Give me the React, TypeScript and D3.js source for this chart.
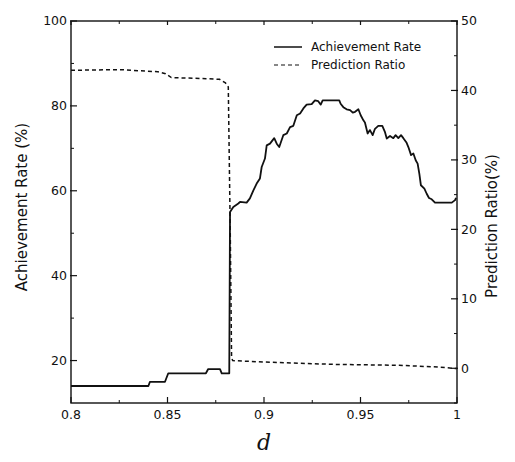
import React from 'react';
import * as d3 from 'd3';

// achievement rate (%), left axis
const achD = [0.8, 0.8401, 0.8409, 0.8487, 0.8504, 0.8699, 0.8711, 0.8772, 0.8781, 0.882,
  0.8824, 0.8841, 0.8867, 0.8876, 0.891, 0.8927, 0.8945, 0.8962, 0.8979, 0.8988, 0.9005,
  0.9014, 0.9031, 0.9053, 0.9066, 0.9079, 0.91, 0.9118, 0.9135, 0.9152, 0.917, 0.9187,
  0.9204, 0.9221, 0.9247, 0.9264, 0.9281, 0.9294, 0.9304, 0.9325, 0.9377, 0.939, 0.9397,
  0.9411, 0.9428, 0.9446, 0.946, 0.9472, 0.9489, 0.9501, 0.9515, 0.9523, 0.9537, 0.9549,
  0.9563, 0.9575, 0.9592, 0.9613, 0.9627, 0.9636, 0.9653, 0.967, 0.9682, 0.9696, 0.971,
  0.9722, 0.9739, 0.9748, 0.9762, 0.9774, 0.9786, 0.9796, 0.9805, 0.9813, 0.9831, 0.9843,
  0.9855, 0.9869, 0.9886, 0.9973, 0.999, 0.9995];
const achV = [14, 14, 15, 15, 17, 17, 18, 18, 17, 17,
  55.0, 56.2, 57.0, 57.4, 57.2, 58.2, 60.1, 61.7, 62.9, 65.6, 67.6,
  70.7, 71.1, 72.4, 71.1, 70.3, 73.1, 73.5, 75.0, 75.3, 77.8, 78.2,
  79.4, 80.3, 80.4, 81.3, 81.1, 80.3, 81.3, 81.3, 81.3, 81.3, 80.5,
  79.7, 79.2, 79.0, 78.4, 78.6, 79.2, 77.8, 76.6, 76.1, 73.5, 74.3,
  73.1, 74.6, 75.3, 75.3, 73.8, 72.3, 72.9, 72.4, 73.1, 72.4, 73.1,
  72.4, 71.3, 70.3, 68.4, 68.8, 67.2, 66.4, 64.0, 61.3, 60.5, 59.3,
  58.3, 58.0, 57.2, 57.2, 57.8, 58.3];

// prediction ratio (%), right axis
const predD = [0.8, 0.825, 0.845, 0.849, 0.852, 0.87, 0.877, 0.88, 0.8815, 0.8825, 0.8832,
  0.8838, 0.9, 0.935, 0.97, 0.99, 1.0];
const predV = [42.9, 43.0, 42.7, 42.4, 41.85, 41.7, 41.6, 41.1, 40.5, 20, 1.5,
  1.1, 0.9, 0.57, 0.43, 0.18, -0.05];

const xTicks = [0.8, 0.85, 0.9, 0.95, 1];
const xMinor = [0.825, 0.875, 0.925, 0.975];
const leftTicks = [20, 40, 60, 80, 100];
const leftMinor = [30, 50, 70, 90];
const rightTicks = [0, 10, 20, 30, 40, 50];
const rightMinor = [-5, 5, 15, 25, 35, 45];

const legendItems = ['Achievement Rate', 'Prediction Ratio'];

const W = 515;
const H = 462;
const m = { left: 71, right: 58, top: 21, bottom: 59 };
const font = "'DejaVu Sans', sans-serif";

export default function App() {
  const x = d3.scaleLinear().domain([0.8, 1]).range([m.left, W - m.right]);
  const yL = d3.scaleLinear().domain([10, 100]).range([H - m.bottom, m.top]);
  const yR = d3.scaleLinear().domain([-5, 50]).range([H - m.bottom, m.top]);

  const achPts = achD.map((d, i) => [d, achV[i]] as [number, number]);
  const predPts = predD.map((d, i) => [d, predV[i]] as [number, number]);
  const achLine = d3.line<[number, number]>().x((p) => x(p[0])).y((p) => yL(p[1]))(achPts) || '';
  const predLine = d3.line<[number, number]>().x((p) => x(p[0])).y((p) => yR(p[1]))(predPts) || '';

  const x0 = m.left;
  const x1 = W - m.right;
  const y0 = m.top;
  const y1 = H - m.bottom;
  const stroke = '#111';

  return (
    <svg width={W} height={H} style={{ position: 'absolute', left: 0, top: 0, background: '#fff' }}>
      <rect x={0} y={0} width={W} height={H} fill="#fff" />
      {/* frame */}
      <rect x={x0} y={y0} width={x1 - x0} height={y1 - y0} fill="none" stroke={stroke} strokeWidth={1.4} />

      {/* x ticks */}
      {xTicks.map((t) => (
        <g key={'xt' + t}>
          <line x1={x(t)} x2={x(t)} y1={y1} y2={y1 - 6} stroke={stroke} strokeWidth={1.2} />
          <line x1={x(t)} x2={x(t)} y1={y0} y2={y0 + 4} stroke={stroke} strokeWidth={1.2} />
          <text x={x(t)} y={y1 + 16} textAnchor="middle" fontFamily={font} fontSize={12.5} fill="#111">
            {String(t)}
          </text>
        </g>
      ))}
      {xMinor.map((t) => (
        <g key={'xm' + t}>
          <line x1={x(t)} x2={x(t)} y1={y1} y2={y1 - 3} stroke={stroke} strokeWidth={1} />
          <line x1={x(t)} x2={x(t)} y1={y0} y2={y0 + 3} stroke={stroke} strokeWidth={1} />
        </g>
      ))}

      {/* left axis */}
      {leftTicks.map((t) => (
        <g key={'lt' + t}>
          <line x1={x0 - 1} x2={x0 + 6} y1={yL(t)} y2={yL(t)} stroke={stroke} strokeWidth={1.2} />
          <text x={x0 - 4} y={yL(t)} dy="0.35em" textAnchor="end" fontFamily={font} fontSize={12.5} fill="#111">
            {t}
          </text>
        </g>
      ))}
      {leftMinor.map((t) => (
        <line key={'lm' + t} x1={x0} x2={x0 + 3} y1={yL(t)} y2={yL(t)} stroke={stroke} strokeWidth={1} />
      ))}

      {/* right axis */}
      {rightTicks.map((t) => (
        <g key={'rt' + t}>
          <line x1={x1 - 6} x2={x1 + 1} y1={yR(t)} y2={yR(t)} stroke={stroke} strokeWidth={1.2} />
          <text x={x1 + 4} y={yR(t)} dy="0.35em" textAnchor="start" fontFamily={font} fontSize={12.5} fill="#111">
            {t}
          </text>
        </g>
      ))}
      {rightMinor.map((t) => (
        <line key={'rm' + t} x1={x1 - 3} x2={x1} y1={yR(t)} y2={yR(t)} stroke={stroke} strokeWidth={1} />
      ))}

      {/* series */}
      <path d={predLine} fill="none" stroke={stroke} strokeWidth={1.5} strokeDasharray="4,3" />
      <path d={achLine} fill="none" stroke={stroke} strokeWidth={1.8} strokeLinejoin="round" />

      {/* legend */}
      {legendItems.map((name, i) => (
        <g key={name} transform={`translate(274,${47 + i * 18})`}>
          <line x1={0} x2={28} y1={0} y2={0} stroke={stroke} strokeWidth={i === 0 ? 1.5 : 1.2}
            strokeDasharray={i === 0 ? undefined : '4,3'} />
          <text x={37} y={0} dy="0.35em" fontFamily={font} fontSize={12} fill="#111">{name}</text>
        </g>
      ))}

      {/* axis titles */}
      <text transform="translate(27,207) rotate(-90)" textAnchor="middle" fontFamily={font} fontSize={15} fill="#111">
        Achievement Rate (%)
      </text>
      <text transform="translate(497,226) rotate(-90)" textAnchor="middle" fontFamily={font} fontSize={15} fill="#111">
        Prediction Ratio(%)
      </text>
      <text x={264} y={450} textAnchor="middle" fontFamily="'DejaVu Serif', serif" fontStyle="italic" fontSize={22} fill="#111">
        d
      </text>
    </svg>
  );
}
